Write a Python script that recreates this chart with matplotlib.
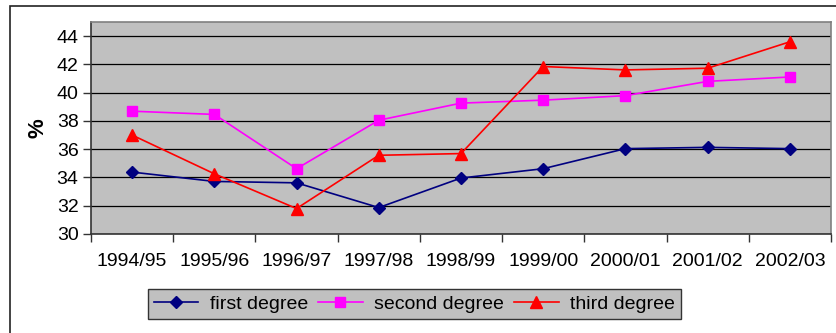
import matplotlib
matplotlib.use("Agg")
import matplotlib.pyplot as plt
from matplotlib.patches import Rectangle

plt.rcParams['font.family'] = ['Liberation Sans', 'DejaVu Sans']

years = ["1994/95", "1995/96", "1996/97", "1997/98", "1998/99",
         "1999/00", "2000/01", "2001/02", "2002/03"]
first_degree = [34.38, 33.72, 33.62, 31.87, 33.96, 34.62, 36.04, 36.13, 36.04]
second_degree = [38.69, 38.46, 34.62, 38.05, 39.26, 39.47, 39.79, 40.80, 41.11]
third_degree = [37.0, 34.26, 31.80, 35.57, 35.69, 41.85, 41.61, 41.73, 43.6]
yticks = [30, 32, 34, 36, 38, 40, 42, 44]

fig = plt.figure(figsize=(8.37, 3.33), dpi=100)
# outer chart border
fig.patches.append(Rectangle((10/837, -0.1), 1.0, (333-6)/333 + 0.1,
                             transform=fig.transFigure, fill=False,
                             edgecolor='#222222', linewidth=1.2, zorder=0))

ax = fig.add_axes([91/837, 1 - 234/333, (831-91)/837, (234-22)/333])
ax.set_facecolor('#C0C0C0')
x = list(range(len(years)))

ax.plot(x, first_degree, color='#000080', marker='D', markersize=6,
        linewidth=1.2, label='first degree', zorder=3)
ax.plot(x, second_degree, color='#FF00FF', marker='s', markersize=7,
        linewidth=1.2, label='second degree', zorder=3)
ax.plot(x, third_degree, color='#FF0000', marker='^', markersize=9,
        linewidth=1.2, label='third degree', zorder=3)

ax.set_xlim(-0.5, len(years) - 0.5)
ax.set_ylim(30, 45)
ax.set_yticks(yticks)
ax.set_yticklabels([str(v) for v in yticks], fontsize=14)
ax.set_xticks([i - 0.5 for i in range(len(years) + 1)])
ax.set_xticklabels([])
ax.set_xticks(x, minor=True)
ax.set_xticklabels(years, minor=True, fontsize=14)
ax.tick_params(axis='x', which='minor', length=0, pad=14)
ax.tick_params(axis='x', which='major', length=6, width=1, color='#333333', direction='out')
ax.tick_params(axis='y', length=6, width=1, color='#333333', direction='out', pad=3)
ax.yaxis.grid(True, color='black', linewidth=0.9)
ax.set_axisbelow(True)
for s in ax.spines.values():
    s.set_color('#808080')
    s.set_linewidth(1.2)
ax.spines['bottom'].set_color('#333333')
ax.spines['left'].set_color('#333333')

ax.set_ylabel('%', fontsize=16, fontweight='bold', labelpad=6)

leg = fig.legend(loc='center', bbox_to_anchor=(414.5/837, 1 - 304/333), ncol=3,
                 fontsize=14, frameon=True, fancybox=False, handlelength=2.3,
                 handletextpad=0.6, columnspacing=0.5, borderpad=0.3)
leg.get_frame().set_facecolor('#C0C0C0')
leg.get_frame().set_edgecolor('#333333')
leg.get_frame().set_linewidth(1.0)
leg.get_frame().set_alpha(1)

fig.savefig('out.png', dpi=100)
